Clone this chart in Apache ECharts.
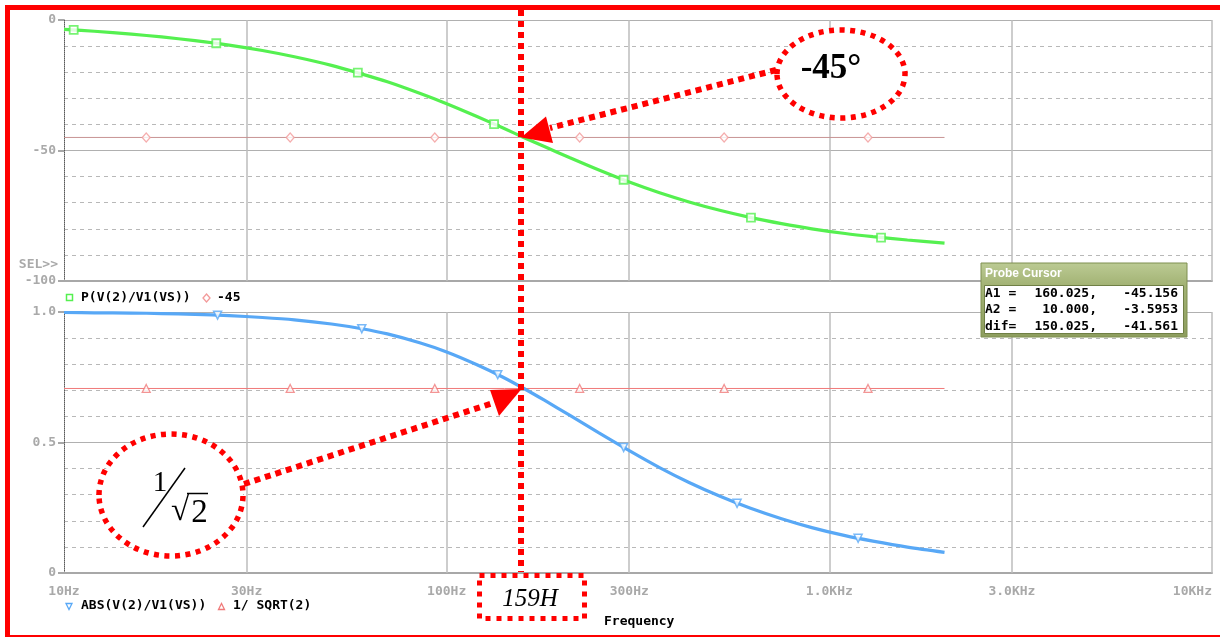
<!DOCTYPE html>
<html>
<head>
<meta charset="utf-8">
<title>RC low-pass: phase and magnitude</title>
<script src="https://cdn.jsdelivr.net/npm/echarts@6/dist/echarts.min.js"></script>
<style>
  html, body { margin: 0; padding: 0; background: #ffffff; }
  #chart { width: 1220px; height: 637px; }
</style>
</head>
<body>
<div id="chart"></div>
<script>
// ---- data ---------------------------------------------------------------
const freqHz = [10, 12, 15, 18, 22, 27, 33, 40, 50, 60, 70, 85, 100, 120, 140, 160, 180, 210, 250, 300, 360, 430, 520, 620, 750, 900, 1100, 1300, 1600, 2000];
// phase of V(2)/V1(VS) in degrees
const phaseDeg = [-3.6, -4.3, -5.4, -6.5, -7.9, -9.6, -11.7, -14.1, -17.4, -20.7, -23.7, -28.1, -32.1, -37.0, -41.3, -45.2, -48.5, -52.8, -57.5, -62.1, -66.2, -69.7, -73.0, -75.6, -78.0, -80.0, -81.8, -83.0, -84.3, -85.5];
// magnitude of V(2)/V1(VS)
const magnitude = [0.998, 0.997, 0.996, 0.994, 0.991, 0.986, 0.979, 0.970, 0.954, 0.936, 0.916, 0.882, 0.847, 0.798, 0.751, 0.705, 0.662, 0.604, 0.537, 0.469, 0.404, 0.347, 0.293, 0.249, 0.208, 0.174, 0.143, 0.122, 0.099, 0.079];

// trace markers
const phaseMarkFreq = [10.6, 25, 58.6, 133, 290, 624, 1365];
const phaseMarkVal = [-3.8, -8.9, -20.2, -39.9, -61.2, -75.7, -83.4];
const magMarkFreq = [25.2, 60, 136, 290, 574, 1189];
const magMarkVal = [0.988, 0.936, 0.760, 0.481, 0.267, 0.133];

// reference levels
const refFreqRange = [10, 2000];
const phaseRef = -45;
const magRef = 0.707;
const refMarkFreq = [16.4, 39, 93.1, 222.6, 531, 1262];

// axes
const xTickValues = [10, 30, 100, 300, 1000, 3000, 10000];
const xTickLabels = ['10Hz', '30Hz', '100Hz', '300Hz', '1.0KHz', '3.0KHz', '10KHz'];
const xGridValues = [30, 100, 300, 1000, 3000, 10000];
const phaseTickLabels = { '0': '0', '-50': '-50', '-100': '-100' };
const magTickLabels = { '0': '0', '0.5': '0.5', '1': '1.0' };

// names
const seriesNames = ['P(V(2)/V1(VS))', '-45', 'ABS(V(2)/V1(VS))', '1/ SQRT(2)'];

// probe cursor readout
const probeRows = ['A1 =', 'A2 =', 'dif='];
const probeX = ['160.025,', '10.000,', '150.025,'];
const probeY = ['-45.156', '-3.5953', '-41.561'];

// ---- styling ------------------------------------------------------------
const GREEN = '#55f050';
const BLUE = '#58a8f6';
const RED_TOP = '#c79393';
const RED_BOT = '#f07a7a';
const PINK = '#f39a9a';
const RED = '#ff0000';
const GRID_GRAY = '#bdbdbd';
const mono = '"DejaVu Sans Mono", monospace';
const serif = '"Liberation Serif", "DejaVu Serif", serif';

const zip = (xs, ys) => xs.map((x, i) => [x, ys[i]]);
const labelFor = v => {
  const i = xTickValues.findIndex(t => Math.abs(t - v) / t < 1e-6);
  return i >= 0 ? xTickLabels[i] : '';
};

const tickText = { color: '#a9a9a9', fontFamily: mono, fontWeight: 'bold', fontSize: 13 };

function xAxisFor(grid, withLabels) {
  return {
    gridIndex: grid, type: 'log', logBase: 10, min: 10, max: 10000,
    axisLine: { show: true, onZero: false, lineStyle: { color: '#a8a8a8', width: 2 } },
    axisTick: { show: false, customValues: xTickValues },
    axisLabel: Object.assign({
      show: withLabels, customValues: xTickValues, margin: 12,
      formatter: labelFor, alignMinLabel: 'center', alignMaxLabel: 'right'
    }, tickText),
    splitLine: { show: false }
  };
}

function yAxisFor(grid, min, max, interval, labels) {
  return {
    gridIndex: grid, type: 'value', min: min, max: max, interval: interval,
    axisLine: { show: true, lineStyle: { color: '#5a5a5a', type: 'dotted', width: 1 } },
    axisTick: { show: true, length: 6, lineStyle: { color: '#a8a8a8', width: 2 } },
    axisLabel: Object.assign({ margin: 8, formatter: v => labels[String(v)] || '' }, tickText),
    splitLine: { show: true, lineStyle: { color: '#b0b0b0', width: 1.2 } },
    minorTick: { show: false, splitNumber: 5 },
    minorSplitLine: { show: true, lineStyle: { color: '#b8b8b8', width: 1, type: [4, 4] } }
  };
}

function verticalGrid() {
  return {
    silent: true, z: 1, symbol: ['none', 'none'], animation: false,
    label: { show: false }, emphasis: { disabled: true },
    lineStyle: { color: GRID_GRAY, width: 1.5, type: 'solid' },
    data: xGridValues.map(v => ({ xAxis: v }))
  };
}

const option = {
  animation: false,
  grid: [
    { left: 64, right: 8, top: 20, height: 261 },
    { left: 64, right: 8, top: 312, height: 261 }
  ],
  xAxis: [xAxisFor(0, false), xAxisFor(1, true)],
  yAxis: [
    yAxisFor(0, -100, 0, 50, phaseTickLabels),
    yAxisFor(1, 0, 1, 0.5, magTickLabels)
  ],
  series: [
    // upper plot: -45 reference level
    {
      name: seriesNames[1], type: 'line', xAxisIndex: 0, yAxisIndex: 0, z: 2,
      data: refFreqRange.map(f => [f, phaseRef]), showSymbol: false,
      lineStyle: { color: RED_TOP, width: 1 }, markLine: verticalGrid()
    },
    {
      name: seriesNames[1] + ' markers', type: 'scatter', xAxisIndex: 0, yAxisIndex: 0, z: 3,
      data: refMarkFreq.map(f => [f, phaseRef]), symbol: 'diamond', symbolSize: [8, 9],
      itemStyle: { color: '#ffffff', borderColor: PINK, borderWidth: 1.3 }
    },
    // upper plot: phase trace
    {
      name: seriesNames[0], type: 'line', xAxisIndex: 0, yAxisIndex: 0, z: 4,
      data: zip(freqHz, phaseDeg), showSymbol: false, smooth: 0.3,
      lineStyle: { color: GREEN, width: 3.2 }
    },
    {
      name: seriesNames[0] + ' markers', type: 'scatter', xAxisIndex: 0, yAxisIndex: 0, z: 5,
      data: zip(phaseMarkFreq, phaseMarkVal), symbol: 'rect', symbolSize: 8,
      itemStyle: { color: '#ffffff', borderColor: GREEN, borderWidth: 1.8 }
    },
    // lower plot: 1/sqrt(2) reference level
    {
      name: seriesNames[3], type: 'line', xAxisIndex: 1, yAxisIndex: 1, z: 2,
      data: refFreqRange.map(f => [f, magRef]), showSymbol: false,
      lineStyle: { color: RED_BOT, width: 1 }, markLine: verticalGrid()
    },
    {
      name: seriesNames[3] + ' markers', type: 'scatter', xAxisIndex: 1, yAxisIndex: 1, z: 3,
      data: refMarkFreq.map(f => [f, magRef]), symbol: 'triangle', symbolSize: [8, 8],
      itemStyle: { color: '#ffffff', borderColor: RED_BOT, borderWidth: 1.3 }
    },
    // lower plot: magnitude trace
    {
      name: seriesNames[2], type: 'line', xAxisIndex: 1, yAxisIndex: 1, z: 4,
      data: zip(freqHz, magnitude), showSymbol: false, smooth: 0.3,
      lineStyle: { color: BLUE, width: 3.2 }
    },
    {
      name: seriesNames[2] + ' markers', type: 'scatter', xAxisIndex: 1, yAxisIndex: 1, z: 5,
      data: zip(magMarkFreq, magMarkVal), symbol: 'triangle', symbolRotate: 180, symbolSize: [8, 8],
      itemStyle: { color: '#ffffff', borderColor: BLUE, borderWidth: 1.5 }
    }
  ]
};

// ---- overlay: legends, captions, annotations, probe cursor --------------
const blackText = { fill: '#000000', font: 'bold 13px ' + mono, textVerticalAlign: 'middle' };
const txt = (x, y, text, extra, z) => ({
  type: 'text', z: z || 50, style: Object.assign({ x: x, y: y, text: text }, blackText, extra || {})
});
const dotted = (points, width, dash) => ({
  type: 'polyline', z: 60, silent: true,
  shape: { points: points },
  style: { stroke: RED, lineWidth: width, lineDash: dash, fill: null, lineCap: 'butt' }
});

const graphics = [
  // page frame
  { type: 'rect', z: 70, shape: { x: 7.5, y: 7.5, width: 1230, height: 630 },
    style: { fill: null, stroke: RED, lineWidth: 5 } },

  // legends
  { type: 'rect', z: 50, shape: { x: 66.5, y: 294.5, width: 6, height: 6 },
    style: { fill: '#fff', stroke: GREEN, lineWidth: 1.5 } },
  txt(81, 298, seriesNames[0]),
  { type: 'polygon', z: 50, shape: { points: [[206.5, 294], [210, 298], [206.5, 302], [203, 298]] },
    style: { fill: '#fff', stroke: PINK, lineWidth: 1.3 } },
  txt(217, 298, seriesNames[1]),
  { type: 'polygon', z: 50, shape: { points: [[66, 603.5], [72, 603.5], [69, 609.5]] },
    style: { fill: '#fff', stroke: BLUE, lineWidth: 1.3 } },
  txt(81, 606, seriesNames[2]),
  { type: 'polygon', z: 50, shape: { points: [[218.5, 609.5], [224.5, 609.5], [221.5, 603.5]] },
    style: { fill: '#fff', stroke: RED_BOT, lineWidth: 1.3 } },
  txt(233, 606, seriesNames[3]),
  txt(604, 622, 'Frequency'),
  txt(58, 265, 'SEL>>', { fill: '#a9a9a9', textAlign: 'right' }),

  // cursor marker at the corner frequency
  dotted([[521, 10], [521, 572]], 6, [6, 5]),
  { type: 'rect', z: 60, shape: { x: 479.5, y: 575.5, width: 105, height: 43 },
    style: { fill: '#ffffff', stroke: RED, lineWidth: 5, lineDash: [5, 6] } },
  txt(530, 599, '159H', { font: 'italic 25px ' + serif, textAlign: 'center' }, 65),

  // -45 degree callout
  { type: 'ellipse', z: 60, shape: { cx: 841, cy: 74, rx: 64, ry: 44 },
    style: { fill: '#ffffff', stroke: RED, lineWidth: 5.5, lineDash: [5, 5.5] } },
  txt(831, 69, '-45°', { font: 'bold 35px ' + serif, textAlign: 'center' }, 65),
  dotted([[776, 70], [550, 128]], 6, [6, 5]),
  { type: 'polygon', z: 61, shape: { points: [[521, 137.5], [546, 116.5], [553, 143]] },
    style: { fill: RED } },

  // 1/sqrt(2) callout
  { type: 'ellipse', z: 60, shape: { cx: 171, cy: 495, rx: 72, ry: 61 },
    style: { fill: '#ffffff', stroke: RED, lineWidth: 5.5, lineDash: [5, 5.5] } },
  txt(160, 483, '1', { font: '29px ' + serif, textAlign: 'center' }, 65),
  { type: 'line', z: 65, shape: { x1: 185, y1: 468, x2: 143, y2: 527 },
    style: { stroke: '#000', lineWidth: 1.5 } },
  txt(180, 511, '√', { font: '33px ' + serif, textAlign: 'center' }, 65),
  { type: 'line', z: 65, shape: { x1: 187, y1: 493.5, x2: 208, y2: 493.5 },
    style: { stroke: '#000', lineWidth: 1.5 } },
  txt(199.5, 513, '2', { font: '33px ' + serif, textAlign: 'center' }, 65),
  dotted([[244, 484], [493, 403]], 6, [6, 5]),
  { type: 'polygon', z: 61, shape: { points: [[521.5, 389], [490, 390], [499, 416]] },
    style: { fill: RED } },

  // probe cursor window
  { type: 'rect', z: 80, shape: { x: 981, y: 263, width: 206, height: 74 },
    style: { fill: new echarts.graphic.LinearGradient(0, 0, 0, 1, [
      { offset: 0, color: '#bccb94' }, { offset: 0.3, color: '#a3b375' }, { offset: 1, color: '#8d9d5e' }
    ]), stroke: '#7f8f50', lineWidth: 1 } },
  { type: 'rect', z: 81, shape: { x: 984.5, y: 285.5, width: 199, height: 48 },
    style: { fill: '#ffffff', stroke: '#6f7f45', lineWidth: 1 } },
  { type: 'text', z: 82, style: { x: 985, y: 274, text: 'Probe Cursor', fill: '#ffffff',
    font: 'bold 12px "Liberation Sans", "DejaVu Sans", sans-serif', textVerticalAlign: 'middle' } }
];

probeRows.forEach((r, i) => {
  const y = 293.5 + i * 16.5;
  graphics.push(txt(985, y, r, null, 83));
  graphics.push(txt(1097, y, probeX[i], { textAlign: 'right' }, 83));
  graphics.push(txt(1178, y, probeY[i], { textAlign: 'right' }, 83));
});

option.graphic = { elements: graphics };

const chart = echarts.init(document.getElementById('chart'), null, { renderer: 'canvas' });
chart.setOption(option);
</script>
</body>
</html>
